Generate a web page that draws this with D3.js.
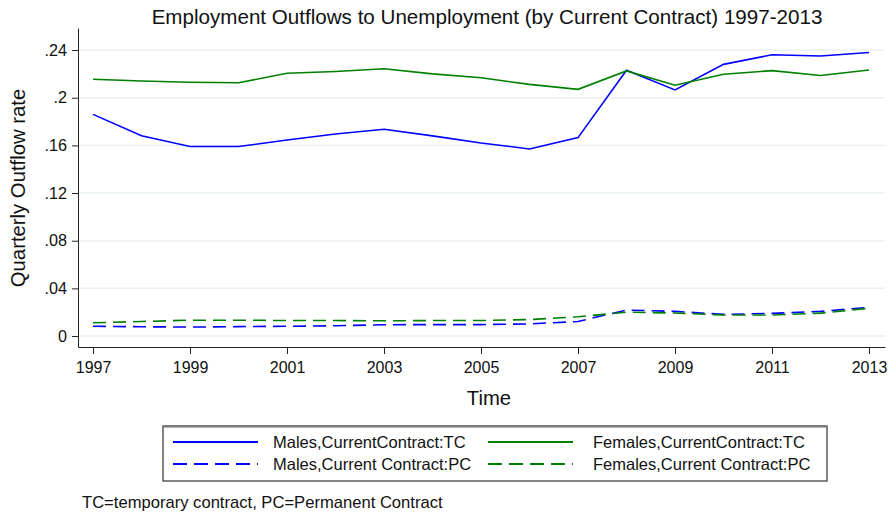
<!DOCTYPE html>
<html>
<head>
<meta charset="utf-8">
<script src="https://cdn.jsdelivr.net/npm/d3@7"></script>
<style>
  body { margin: 0; background: #fff; }
  svg { display: block; font-family: "Liberation Sans", Arial, sans-serif; }
</style>
</head>
<body>
<svg id="chart" width="894" height="514"></svg>
<script>
const years = [1997,1998,1999,2000,2001,2002,2003,2004,2005,2006,2007,2008,2009,2010,2011,2012,2013];
const malesTC   = [0.186,0.168,0.159,0.159,0.1645,0.1695,0.1735,0.168,0.162,0.157,0.1665,0.223,0.2065,0.228,0.236,0.235,0.238];
const femalesTC = [0.2155,0.214,0.213,0.2125,0.2205,0.222,0.2243,0.220,0.2167,0.2112,0.207,0.2225,0.2105,0.2197,0.2227,0.2187,0.2232];
const malesPC   = [0.0082,0.0078,0.0075,0.0079,0.0082,0.0086,0.0095,0.0096,0.0096,0.0102,0.0122,0.0218,0.0207,0.0182,0.019,0.0207,0.0241];
const femalesPC = [0.0111,0.0122,0.0133,0.0133,0.013,0.013,0.0128,0.013,0.013,0.0138,0.0162,0.020,0.0193,0.0176,0.0176,0.0192,0.0233];
const yTicks = [0, 0.04, 0.08, 0.12, 0.16, 0.2, 0.24];
const yTickLabels = ["0", ".04", ".08", ".12", ".16", ".2", ".24"];
const xTicks = [1997,1999,2001,2003,2005,2007,2009,2011,2013];
const seriesNames = ["Males,CurrentContract:TC","Females,CurrentContract:TC","Males,Current Contract:PC","Females,Current Contract:PC"];

const svg = d3.select("#chart");
const blue = "#0000ff", green = "#008000";

// scales (plot region edges slightly beyond data)
const x = d3.scaleLinear().domain([1996.69, 2013.33]).range([78, 885]);
const y = d3.scaleLinear().domain([-0.0092, 0.2585]).range([347, 28]);

// gridlines
svg.append("g").selectAll("line").data(yTicks).join("line")
  .attr("x1", 79).attr("x2", 885)
  .attr("y1", d => y(d)).attr("y2", d => y(d))
  .attr("stroke", "#eaf0f4").attr("stroke-width", 1.5);

// axes
const yAxis = d3.axisLeft(y).tickValues(yTicks).tickFormat((d,i) => yTickLabels[i]).tickSize(6).tickPadding(5).tickSizeOuter(0);
const gy = svg.append("g").attr("transform", "translate(78,0)").call(yAxis);
gy.selectAll("text").attr("font-size", 16.2).attr("fill", "#111");
gy.selectAll("line").attr("stroke", "#222");
gy.select(".domain").attr("stroke", "#222");

const xAxis = d3.axisBottom(x).tickValues(xTicks).tickFormat(d3.format("d")).tickSize(7).tickPadding(8).tickSizeOuter(0);
const gx = svg.append("g").attr("transform", "translate(0,347)").call(xAxis);
gx.selectAll("text").attr("font-size", 16).attr("fill", "#111");
gx.selectAll("line").attr("stroke", "#222");
gx.select(".domain").attr("stroke", "#222");

// lines
const line = d3.line().x((d,i) => x(years[i])).y(d => y(d));
const series = [
  {v: malesTC, c: blue, dash: null},
  {v: femalesTC, c: green, dash: null},
  {v: malesPC, c: blue, dash: "13,7"},
  {v: femalesPC, c: green, dash: "13,7"}
];
[series[2], series[3], series[0], series[1]].forEach(s => {
  svg.append("path").datum(s.v).attr("d", line)
    .attr("fill", "none").attr("stroke", s.c).attr("stroke-width", 1.6)
    .attr("stroke-dasharray", s.dash);
});

// title
svg.append("text").attr("x", 487).attr("y", 24).attr("text-anchor", "middle")
  .attr("font-size", 20.6).attr("fill", "#111")
  .text("Employment Outflows to Unemployment (by Current Contract) 1997-2013");

// axis titles
svg.append("text").attr("x", 489).attr("y", 405).attr("text-anchor", "middle")
  .attr("font-size", 20.3).attr("fill", "#111").text("Time");
svg.append("text").attr("transform", "translate(25,188) rotate(-90)").attr("text-anchor", "middle")
  .attr("font-size", 20.3).attr("fill", "#111").text("Quarterly Outflow rate");

// legend
svg.append("rect").attr("x", 163).attr("y", 426).attr("width", 664).attr("height", 55)
  .attr("fill", "#fff").attr("stroke", "#333").attr("stroke-width", 1.2);
svg.append("line").attr("x1", 163).attr("x2", 827).attr("y1", 426.5).attr("y2", 426.5)
  .attr("stroke", "#777").attr("stroke-width", 2);
const legendItems = [
  {name: seriesNames[0], c: blue, dash: null, lx: 173, tx: 273, ly: 442},
  {name: seriesNames[1], c: green, dash: null, lx: 488, tx: 593, ly: 442},
  {name: seriesNames[2], c: blue, dash: "14,7", lx: 173, tx: 273, ly: 464},
  {name: seriesNames[3], c: green, dash: "14,7", lx: 488, tx: 593, ly: 464}
];
legendItems.forEach(it => {
  svg.append("line").attr("x1", it.lx).attr("x2", it.lx + 85).attr("y1", it.ly).attr("y2", it.ly)
    .attr("stroke", it.c).attr("stroke-width", 1.8).attr("stroke-dasharray", it.dash);
  svg.append("text").attr("x", it.tx).attr("y", it.ly + 5.5).attr("font-size", 16.5).attr("fill", "#111")
    .text(it.name);
});

// note
svg.append("text").attr("x", 82).attr("y", 508).attr("font-size", 16.6).attr("fill", "#111")
  .text("TC=temporary contract, PC=Permanent Contract");
</script>
</body>
</html>
